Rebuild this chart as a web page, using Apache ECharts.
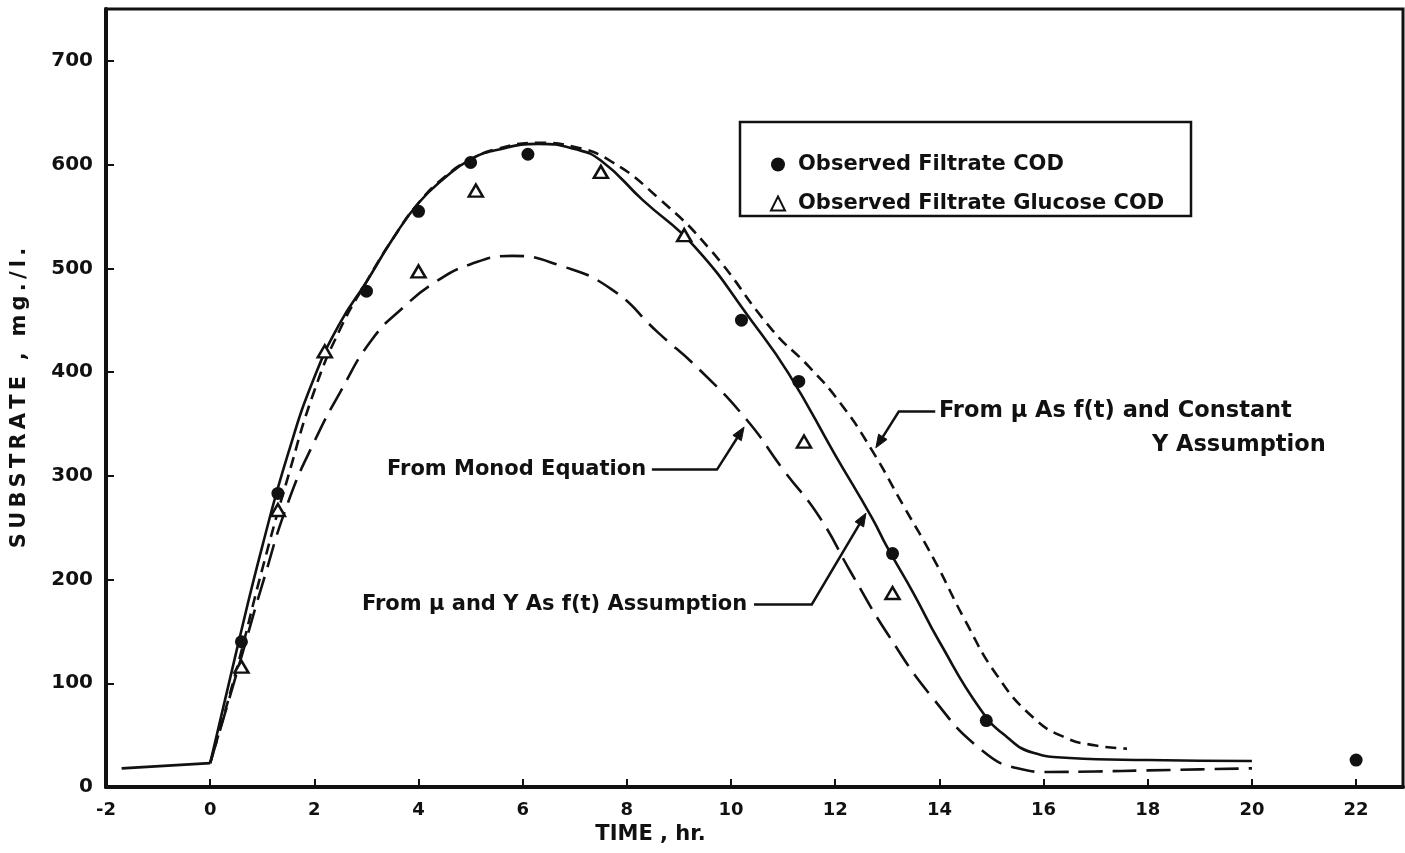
<!DOCTYPE html>
<html>
<head>
<meta charset="utf-8">
<title>Substrate vs Time</title>
<script src="https://cdn.jsdelivr.net/npm/echarts@6/dist/echarts.min.js"></script>
<style>
  html, body { margin: 0; padding: 0; background: #fff; }
  #chart { width: 1405px; height: 853px; }
</style>
</head>
<body>
<div id="chart"></div>
<script>
// Observed filtrate COD (filled circles)
const codTime  = [0.6, 1.3, 3.0, 4.0, 5.0, 6.1, 10.2, 11.3, 13.1, 14.9, 22.0];
const codValue = [140, 283, 478, 555, 602, 610, 450, 391, 225, 64, 26];

// Observed filtrate glucose COD (open triangles)
const glucoseTime  = [0.6, 1.3, 2.2, 4.0, 5.1, 7.5, 9.1, 11.4, 13.1];
const glucoseValue = [116, 267, 420, 497, 575, 593, 532, 333, 187];

// Pre-growth baseline before t = 0 (solid)
const baselineTime  = [-1.7, 0];
const baselineValue = [18, 23];

// Model: mu and Y as f(t) (solid line)
const varYieldTime  = [0, 0.5, 1.0, 1.5, 2.0, 2.5, 3.0, 3.5, 4.0, 4.5, 5.0, 5.5, 6.3, 7.0, 7.5, 8.3, 9.3, 10.4, 11.1, 12.0, 12.7, 13.0, 13.5, 14.0, 14.8, 15.3, 15.8, 16.5, 18.0, 20.0];
const varYieldValue = [23, 130, 232, 322, 395, 448, 487, 528, 563, 587, 605, 614, 620, 615, 604, 566, 521, 449, 399, 320, 260, 231, 187, 140, 74, 48, 33, 28, 26, 25];

// Model: mu as f(t), constant Y (short dashes)
const constYieldTime  = [0, 0.5, 1.0, 1.5, 2.0, 2.5, 3.0, 3.5, 4.0, 4.5, 5.0, 5.5, 6.3, 7.0, 7.7, 8.6, 9.6, 10.8, 11.5, 12.1, 12.7, 13.3, 13.9, 14.5, 15.1, 15.8, 16.4, 17.0, 17.6];
const constYieldValue = [23, 112, 210, 300, 382, 442, 487, 528, 563, 588, 605, 615, 621, 617, 603, 568, 518, 440, 405, 370, 325, 272, 219, 160, 108, 67, 48, 40, 37];

// Model: Monod equation (long dashes)
const monodTime  = [0, 0.5, 1.0, 1.5, 2.0, 2.5, 3.1, 3.7, 4.3, 5.0, 5.8, 6.7, 7.7, 8.6, 9.4, 10.3, 11.0, 11.7, 12.3, 13.0, 13.9, 14.8, 15.5, 16.1, 17.0, 18.0, 19.0, 20.0];
const monodValue = [23, 108, 195, 275, 333, 381, 431, 462, 486, 504, 512, 503, 480, 438, 402, 354, 306, 260, 207, 148, 84, 36, 18, 14.5, 15, 16, 17, 18];

// Axis ticks
const timeTicks = [-2, 0, 2, 4, 6, 8, 10, 12, 14, 16, 18, 20, 22];
const substrateTicks = [0, 100, 200, 300, 400, 500, 600, 700];

const seriesNames = ['Observed Filtrate COD', 'Observed Filtrate Glucose COD'];

const pair = (xs, ys) => xs.map((x, i) => [x, ys[i]]);

// spaced-out lettering for the vertical axis title (thin spaces between glyphs)
const letterSpaced = (s) => Array.from(s).join('\u2009');

const FONT = '"DejaVu Sans", "Liberation Sans", sans-serif';
const INK = '#111';

const chart = echarts.init(document.getElementById('chart'), null, { renderer: 'canvas' });

const curveStyle = (type) => ({ color: INK, width: 2.6, type: type, opacity: 1 });

const option = {
  backgroundColor: '#fff',
  animation: false,
  grid: {
    left: 106, right: 2, top: 9, bottom: 66,
    outerBoundsMode: 'none',
    containLabel: false,
    show: true, borderColor: INK, borderWidth: 3, backgroundColor: 'transparent'
  },
  xAxis: {
    type: 'value',
    min: -2, max: 22.9, interval: 2,
    name: 'TIME , hr.',
    nameLocation: 'middle',
    nameGap: 33,
    nameTextStyle: { fontFamily: FONT, fontWeight: 'bold', fontSize: 21, color: INK, padding: [0, 208, 0, 0] },
    axisLine: { onZero: false, lineStyle: { color: INK, width: 4 } },
    axisTick: { inside: true, length: 8, lineStyle: { color: INK, width: 2 } },
    axisLabel: {
      margin: 14, fontFamily: FONT, fontWeight: 'bold', fontSize: 18, color: INK,
      showMaxLabel: false,
      formatter: v => (timeTicks.includes(v) ? String(v) : '')
    },
    splitLine: { show: false }
  },
  yAxis: {
    type: 'value',
    min: 0, max: 750, interval: 100,
    name: letterSpaced('SUBSTRATE , mg./l.'),
    nameLocation: 'middle',
    nameGap: 76,
    nameTextStyle: { fontFamily: FONT, fontWeight: 'bold', fontSize: 21, color: INK },
    axisLine: { onZero: false, lineStyle: { color: INK, width: 4 } },
    axisTick: { inside: true, length: 8, lineStyle: { color: INK, width: 2 } },
    axisLabel: {
      margin: 13, fontFamily: FONT, fontWeight: 'bold', fontSize: 20, color: INK,
      showMaxLabel: false,
      formatter: v => (substrateTicks.includes(v) ? String(v) : '')
    },
    splitLine: { show: false }
  },
  legend: {
    data: seriesNames,
    orient: 'vertical',
    left: 770, top: 154,
    itemWidth: 14, itemHeight: 14, itemGap: 18,
    padding: 0,
    textStyle: { fontFamily: FONT, fontWeight: 'bold', fontSize: 21, color: INK, padding: [0, 0, 0, 8] },
    selectedMode: false
  },
  series: [
    {
      name: 'Pre-growth baseline',
      type: 'line',
      data: pair(baselineTime, baselineValue),
      symbol: 'none',
      lineStyle: curveStyle('solid'),
      z: 2
    },
    {
      name: 'From μ and Y As f(t) Assumption',
      type: 'line',
      data: pair(varYieldTime, varYieldValue),
      smooth: 0.5,
      symbol: 'none',
      lineStyle: curveStyle('solid'),
      z: 2
    },
    {
      name: 'From μ As f(t) and Constant Y Assumption',
      type: 'line',
      data: pair(constYieldTime, constYieldValue),
      smooth: 0.5,
      symbol: 'none',
      lineStyle: curveStyle([11, 7]),
      z: 2
    },
    {
      name: 'From Monod Equation',
      type: 'line',
      data: pair(monodTime, monodValue),
      smooth: 0.5,
      symbol: 'none',
      lineStyle: curveStyle([24, 10]),
      z: 2
    },
    {
      name: seriesNames[0],
      type: 'scatter',
      data: pair(codTime, codValue),
      symbol: 'circle',
      symbolSize: 13,
      itemStyle: { color: INK, borderWidth: 0, opacity: 1 },
      z: 4
    },
    {
      name: seriesNames[1],
      type: 'scatter',
      data: pair(glucoseTime, glucoseValue),
      symbol: 'triangle',
      symbolSize: [14, 12],
      itemStyle: { color: '#fff', borderColor: INK, borderWidth: 2.5, opacity: 1 },
      z: 4
    }
  ]
};

chart.setOption(option);

// Curve labels with leader arrows, anchored in data coordinates
const annotations = [
  {
    lines: [{ text: 'From Monod Equation', at: [8.37, 306], align: 'right', size: 21 }],
    leader: [[8.48, 306], [9.73, 306], [10.25, 347]]
  },
  {
    lines: [{ text: 'From μ and Y As f(t) Assumption', at: [10.31, 176], align: 'right', size: 21 }],
    leader: [[10.44, 176], [11.55, 176], [12.59, 264]]
  },
  {
    lines: [
      { text: 'From μ As f(t) and Constant', at: [13.99, 362], align: 'left', size: 22.5 },
      { text: 'Y Assumption', at: [18.08, 330], align: 'left', size: 22.5 }
    ],
    leader: [[13.92, 362], [13.22, 362], [12.78, 327]]
  }
];

function toPx(p) {
  return chart.convertToPixel({ gridIndex: 0 }, p);
}

function arrowHead(from, tip, len, half) {
  const dx = tip[0] - from[0], dy = tip[1] - from[1];
  const d = Math.hypot(dx, dy) || 1;
  const ux = dx / d, uy = dy / d;
  const bx = tip[0] - ux * len, by = tip[1] - uy * len;
  return [tip, [bx - uy * half, by + ux * half], [bx + uy * half, by - ux * half]];
}

const graphics = [];

// legend frame
graphics.push({
  type: 'rect',
  shape: { x: 740, y: 122, width: 451, height: 94 },
  style: { fill: 'transparent', stroke: INK, lineWidth: 2.5 },
  z: 10
});

annotations.forEach(a => {
  a.lines.forEach(l => {
    const p = toPx(l.at);
    graphics.push({
      type: 'text',
      x: p[0], y: p[1],
      style: {
        text: l.text,
        font: 'bold ' + l.size + 'px ' + FONT,
        fill: INK,
        textAlign: l.align,
        textVerticalAlign: 'middle'
      },
      z: 10
    });
  });
  const pts = a.leader.map(toPx);
  const tip = pts[pts.length - 1];
  const prev = pts[pts.length - 2];
  const head = arrowHead(prev, tip, 13, 5);
  // stop the shaft at the base of the head
  const shaft = pts.slice(0, -1).concat([[ (head[1][0] + head[2][0]) / 2, (head[1][1] + head[2][1]) / 2 ]]);
  graphics.push({
    type: 'polyline',
    shape: { points: shaft },
    style: { stroke: INK, lineWidth: 2.5, fill: 'none' },
    z: 10
  });
  graphics.push({
    type: 'polygon',
    shape: { points: head },
    style: { fill: INK, stroke: INK, lineWidth: 1 },
    z: 10
  });
});

chart.setOption({ graphic: graphics });
</script>
</body>
</html>
